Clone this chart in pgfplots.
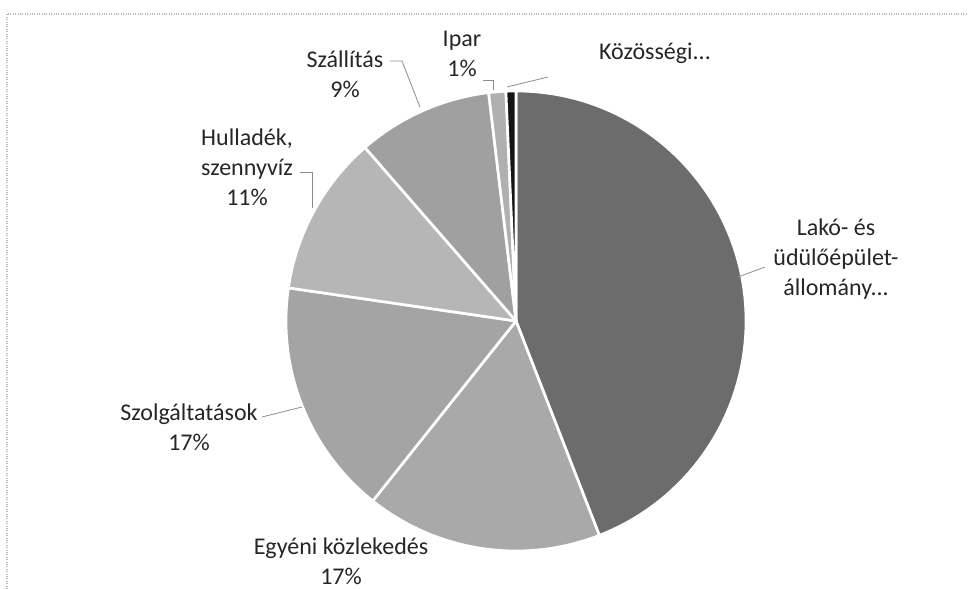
\documentclass[border=0pt]{standalone}
\usepackage{fontspec}
\setmainfont{Carlito}
\usepackage{pgfplots}
\usepackage{pgfplotstable}
\pgfplotsset{compat=1.18}

% slice shares (percent), clockwise from 12 o'clock
\pgfplotstableread{
value shade
44.1  lako
16.6  egyeni
16.6  szolg
11.3  hullad
9.5   szall
1.2   ipar
0.7   kozos
}\piedata

\definecolor{lako}{HTML}{6C6C6C}
\definecolor{egyeni}{HTML}{A9A9A9}
\definecolor{szolg}{HTML}{A4A4A4}
\definecolor{hullad}{HTML}{B6B6B6}
\definecolor{szall}{HTML}{A0A0A0}
\definecolor{ipar}{HTML}{B0B0B0}
\definecolor{kozos}{HTML}{141414}
\definecolor{leader}{HTML}{8C8C8C}

\begin{document}
\begin{tikzpicture}
\begin{axis}[
    hide axis,
    scale only axis,
    width=726pt, height=441.75pt,
    xmin=0, xmax=968, ymin=0, ymax=589,
    y dir=reverse,
    clip=false,
]
\pgfplotsextra{
  \xdef\cum{0}
  \foreach \i in {0,...,6}{
    \pgfplotstablegetelem{\i}{value}\of\piedata \let\v\pgfplotsretval
    \pgfplotstablegetelem{\i}{shade}\of\piedata \let\s\pgfplotsretval
    \pgfmathsetmacro\a{90-3.6*\cum}
    \pgfmathsetmacro\b{90-3.6*(\cum+\v)}
    \fill[fill=\s, draw=white, line width=2pt, line join=round]
      (axis cs:516,321) -- ++(\a:172.5pt)
      arc[start angle=\a, end angle=\b, radius=172.5pt] -- cycle;
    \pgfmathsetmacro\c{\cum+\v}\xdef\cum{\c}
  }
}
% frame
\draw[leader!60, densely dotted, line width=0.8pt] (axis cs:7,589) -- (axis cs:7,14) -- (axis cs:968,14);
% leader lines
\draw[leader, line width=0.6pt] (axis cs:738,277) -- (axis cs:765,267);
\draw[leader, line width=0.6pt] (axis cs:262,417) -- (axis cs:302,407);
\draw[leader, line width=0.6pt] (axis cs:300,172) -- (axis cs:312,172) -- (axis cs:312,208);
\draw[leader, line width=0.6pt] (axis cs:390,61) -- (axis cs:402,61) -- (axis cs:420,107);
\draw[leader, line width=0.6pt] (axis cs:483,80) -- (axis cs:493,80) -- (axis cs:493,90);
\draw[leader, line width=0.6pt] (axis cs:507,87) -- (axis cs:548,77);
% labels
\begin{scope}[every node/.style={align=center, font=\fontsize{18}{22.5}\selectfont, text=black!85}]
\node at (axis cs:836,259) {Lakó- és\\üdülőépület-\\állomány...};
\node at (axis cs:341,561) {Egyéni közlekedés\\17\%};
\node at (axis cs:189,427) {Szolgáltatások\\17\%};
\node at (axis cs:247,167) {Hulladék,\\szennyvíz\\11\%};
\node at (axis cs:345,74) {Szállítás\\9\%};
\node at (axis cs:462,54) {Ipar\\1\%};
\node at (axis cs:655,53) {Közösségi...};
\end{scope}
\end{axis}
\pgfresetboundingbox
\path[use as bounding box] (current axis.south west) rectangle (current axis.north east);
\end{tikzpicture}
\end{document}
